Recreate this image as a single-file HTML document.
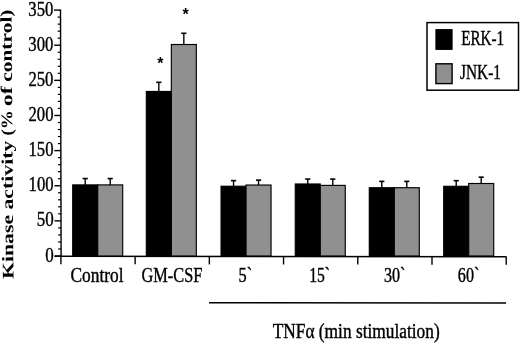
<!DOCTYPE html><html><head><meta charset="utf-8"><title>Kinase activity</title><style>html,body{margin:0;padding:0;background:#fff;}svg{display:block;will-change:transform}text{font-family:"Liberation Serif","DejaVu Serif",serif;fill:#000;stroke:#000;stroke-width:0.4}</style></head><body>
<svg width="520" height="345" viewBox="0 0 520 345">
<rect width="520" height="345" fill="#fff"/>
<line x1="60.5" y1="9.49" x2="61.1" y2="256.7" stroke="#000" stroke-width="1.4"/>
<line x1="54.60" y1="256.00" x2="61.10" y2="256.00" stroke="#000" stroke-width="1.4"/>
<text x="53.72" y="261.60" font-size="20.4" text-anchor="end" textLength="8.5" lengthAdjust="spacingAndGlyphs">0</text>
<line x1="58.18" y1="248.97" x2="61.08" y2="248.97" stroke="#000" stroke-width="1.2"/>
<line x1="58.17" y1="241.95" x2="61.07" y2="241.95" stroke="#000" stroke-width="1.2"/>
<line x1="58.15" y1="234.92" x2="61.05" y2="234.92" stroke="#000" stroke-width="1.2"/>
<line x1="58.13" y1="227.90" x2="61.03" y2="227.90" stroke="#000" stroke-width="1.2"/>
<line x1="54.51" y1="220.87" x2="61.01" y2="220.87" stroke="#000" stroke-width="1.4"/>
<text x="53.66" y="226.47" font-size="20.4" text-anchor="end" textLength="17" lengthAdjust="spacingAndGlyphs">50</text>
<line x1="58.10" y1="213.84" x2="61.00" y2="213.84" stroke="#000" stroke-width="1.2"/>
<line x1="58.08" y1="206.82" x2="60.98" y2="206.82" stroke="#000" stroke-width="1.2"/>
<line x1="58.06" y1="199.79" x2="60.96" y2="199.79" stroke="#000" stroke-width="1.2"/>
<line x1="58.05" y1="192.77" x2="60.95" y2="192.77" stroke="#000" stroke-width="1.2"/>
<line x1="54.43" y1="185.74" x2="60.93" y2="185.74" stroke="#000" stroke-width="1.4"/>
<text x="53.60" y="191.34" font-size="20.4" text-anchor="end" textLength="25" lengthAdjust="spacingAndGlyphs">100</text>
<line x1="58.01" y1="178.71" x2="60.91" y2="178.71" stroke="#000" stroke-width="1.2"/>
<line x1="57.99" y1="171.69" x2="60.89" y2="171.69" stroke="#000" stroke-width="1.2"/>
<line x1="57.98" y1="164.66" x2="60.88" y2="164.66" stroke="#000" stroke-width="1.2"/>
<line x1="57.96" y1="157.64" x2="60.86" y2="157.64" stroke="#000" stroke-width="1.2"/>
<line x1="54.34" y1="150.61" x2="60.84" y2="150.61" stroke="#000" stroke-width="1.4"/>
<text x="53.54" y="156.21" font-size="20.4" text-anchor="end" textLength="25" lengthAdjust="spacingAndGlyphs">150</text>
<line x1="57.93" y1="143.58" x2="60.83" y2="143.58" stroke="#000" stroke-width="1.2"/>
<line x1="57.91" y1="136.56" x2="60.81" y2="136.56" stroke="#000" stroke-width="1.2"/>
<line x1="57.89" y1="129.53" x2="60.79" y2="129.53" stroke="#000" stroke-width="1.2"/>
<line x1="57.87" y1="122.51" x2="60.77" y2="122.51" stroke="#000" stroke-width="1.2"/>
<line x1="54.26" y1="115.48" x2="60.76" y2="115.48" stroke="#000" stroke-width="1.4"/>
<text x="53.48" y="121.08" font-size="20.4" text-anchor="end" textLength="25" lengthAdjust="spacingAndGlyphs">200</text>
<line x1="57.84" y1="108.45" x2="60.74" y2="108.45" stroke="#000" stroke-width="1.2"/>
<line x1="57.82" y1="101.43" x2="60.72" y2="101.43" stroke="#000" stroke-width="1.2"/>
<line x1="57.81" y1="94.40" x2="60.71" y2="94.40" stroke="#000" stroke-width="1.2"/>
<line x1="57.79" y1="87.38" x2="60.69" y2="87.38" stroke="#000" stroke-width="1.2"/>
<line x1="54.17" y1="80.35" x2="60.67" y2="80.35" stroke="#000" stroke-width="1.4"/>
<text x="53.42" y="85.95" font-size="20.4" text-anchor="end" textLength="25" lengthAdjust="spacingAndGlyphs">250</text>
<line x1="57.75" y1="73.32" x2="60.65" y2="73.32" stroke="#000" stroke-width="1.2"/>
<line x1="57.74" y1="66.30" x2="60.64" y2="66.30" stroke="#000" stroke-width="1.2"/>
<line x1="57.72" y1="59.27" x2="60.62" y2="59.27" stroke="#000" stroke-width="1.2"/>
<line x1="57.70" y1="52.25" x2="60.60" y2="52.25" stroke="#000" stroke-width="1.2"/>
<line x1="54.09" y1="45.22" x2="60.59" y2="45.22" stroke="#000" stroke-width="1.4"/>
<text x="53.36" y="50.82" font-size="20.4" text-anchor="end" textLength="25" lengthAdjust="spacingAndGlyphs">300</text>
<line x1="57.67" y1="38.19" x2="60.57" y2="38.19" stroke="#000" stroke-width="1.2"/>
<line x1="57.65" y1="31.17" x2="60.55" y2="31.17" stroke="#000" stroke-width="1.2"/>
<line x1="57.63" y1="24.14" x2="60.53" y2="24.14" stroke="#000" stroke-width="1.2"/>
<line x1="57.62" y1="17.12" x2="60.52" y2="17.12" stroke="#000" stroke-width="1.2"/>
<line x1="54.00" y1="10.09" x2="60.50" y2="10.09" stroke="#000" stroke-width="1.4"/>
<text x="53.30" y="15.69" font-size="20.4" text-anchor="end" textLength="25" lengthAdjust="spacingAndGlyphs">350</text>
<line x1="54.5" y1="256.3" x2="506.52" y2="256.7" stroke="#000" stroke-width="1.4"/>
<line x1="60.90" y1="256.30" x2="60.90" y2="264.30" stroke="#000" stroke-width="1.4"/>
<line x1="135.12" y1="256.37" x2="135.12" y2="264.37" stroke="#000" stroke-width="1.4"/>
<line x1="209.34" y1="256.43" x2="209.34" y2="264.43" stroke="#000" stroke-width="1.4"/>
<line x1="283.56" y1="256.50" x2="283.56" y2="264.50" stroke="#000" stroke-width="1.4"/>
<line x1="357.78" y1="256.57" x2="357.78" y2="264.57" stroke="#000" stroke-width="1.4"/>
<line x1="432.00" y1="256.63" x2="432.00" y2="264.63" stroke="#000" stroke-width="1.4"/>
<line x1="506.22" y1="256.70" x2="506.22" y2="264.70" stroke="#000" stroke-width="1.4"/>
<rect x="72.71" y="184.90" width="25.0" height="71.10" fill="#000" stroke="#000" stroke-width="1.15"/>
<line x1="85.21" y1="184.90" x2="85.21" y2="178.57" stroke="#000" stroke-width="1.4"/>
<line x1="82.61" y1="178.57" x2="87.81" y2="178.57" stroke="#000" stroke-width="1.6"/>
<rect x="97.71" y="184.90" width="25.0" height="71.10" fill="#909090" stroke="#000" stroke-width="1.15"/>
<line x1="110.21" y1="184.90" x2="110.21" y2="178.57" stroke="#000" stroke-width="1.4"/>
<line x1="107.61" y1="178.57" x2="112.81" y2="178.57" stroke="#000" stroke-width="1.6"/>
<rect x="146.33" y="91.45" width="25.0" height="164.55" fill="#000" stroke="#000" stroke-width="1.15"/>
<line x1="158.83" y1="91.45" x2="158.83" y2="82.32" stroke="#000" stroke-width="1.4"/>
<line x1="156.23" y1="82.32" x2="161.43" y2="82.32" stroke="#000" stroke-width="1.6"/>
<rect x="171.33" y="44.52" width="25.0" height="211.48" fill="#909090" stroke="#000" stroke-width="1.15"/>
<line x1="183.83" y1="44.52" x2="183.83" y2="33.28" stroke="#000" stroke-width="1.4"/>
<line x1="181.23" y1="33.28" x2="186.43" y2="33.28" stroke="#000" stroke-width="1.6"/>
<rect x="221.05" y="186.23" width="25.0" height="69.77" fill="#000" stroke="#000" stroke-width="1.15"/>
<line x1="233.55" y1="186.23" x2="233.55" y2="180.61" stroke="#000" stroke-width="1.4"/>
<line x1="230.95" y1="180.61" x2="236.15" y2="180.61" stroke="#000" stroke-width="1.6"/>
<rect x="246.05" y="185.04" width="25.0" height="70.96" fill="#909090" stroke="#000" stroke-width="1.15"/>
<line x1="258.55" y1="185.04" x2="258.55" y2="180.12" stroke="#000" stroke-width="1.4"/>
<line x1="255.95" y1="180.12" x2="261.15" y2="180.12" stroke="#000" stroke-width="1.6"/>
<rect x="295.27" y="183.98" width="25.0" height="72.02" fill="#000" stroke="#000" stroke-width="1.15"/>
<line x1="307.77" y1="183.98" x2="307.77" y2="179.07" stroke="#000" stroke-width="1.4"/>
<line x1="305.17" y1="179.07" x2="310.37" y2="179.07" stroke="#000" stroke-width="1.6"/>
<rect x="320.27" y="185.39" width="25.0" height="70.61" fill="#909090" stroke="#000" stroke-width="1.15"/>
<line x1="332.77" y1="185.39" x2="332.77" y2="179.07" stroke="#000" stroke-width="1.4"/>
<line x1="330.17" y1="179.07" x2="335.37" y2="179.07" stroke="#000" stroke-width="1.6"/>
<rect x="369.29" y="187.71" width="25.0" height="68.29" fill="#000" stroke="#000" stroke-width="1.15"/>
<line x1="381.79" y1="187.71" x2="381.79" y2="181.38" stroke="#000" stroke-width="1.4"/>
<line x1="379.19" y1="181.38" x2="384.39" y2="181.38" stroke="#000" stroke-width="1.6"/>
<rect x="394.29" y="187.71" width="25.0" height="68.29" fill="#909090" stroke="#000" stroke-width="1.15"/>
<line x1="406.79" y1="187.71" x2="406.79" y2="181.38" stroke="#000" stroke-width="1.4"/>
<line x1="404.19" y1="181.38" x2="409.39" y2="181.38" stroke="#000" stroke-width="1.6"/>
<rect x="443.71" y="186.30" width="25.0" height="69.70" fill="#000" stroke="#000" stroke-width="1.15"/>
<line x1="456.21" y1="186.30" x2="456.21" y2="180.68" stroke="#000" stroke-width="1.4"/>
<line x1="453.61" y1="180.68" x2="458.81" y2="180.68" stroke="#000" stroke-width="1.6"/>
<rect x="468.71" y="183.49" width="25.0" height="72.51" fill="#909090" stroke="#000" stroke-width="1.15"/>
<line x1="481.21" y1="183.49" x2="481.21" y2="177.17" stroke="#000" stroke-width="1.4"/>
<line x1="478.61" y1="177.17" x2="483.81" y2="177.17" stroke="#000" stroke-width="1.6"/>
<text x="160.3" y="69.0" font-size="16" text-anchor="middle" style="font-family:'Liberation Sans',sans-serif;font-weight:bold;stroke:none">*</text>
<text x="185.5" y="19.5" font-size="16" text-anchor="middle" style="font-family:'Liberation Sans',sans-serif;font-weight:bold;stroke:none">*</text>
<text x="97" y="282.2" font-size="20" text-anchor="middle" textLength="53" lengthAdjust="spacingAndGlyphs">Control</text>
<text x="171.9" y="282.2" font-size="20" text-anchor="middle" textLength="60.8" lengthAdjust="spacingAndGlyphs">GM-CSF</text>
<text x="245.3" y="282.2" font-size="20" text-anchor="middle" textLength="13.6" lengthAdjust="spacingAndGlyphs">5`</text>
<text x="319.6" y="282.2" font-size="20" text-anchor="middle" textLength="20.8" lengthAdjust="spacingAndGlyphs">15`</text>
<text x="394.7" y="282.2" font-size="20" text-anchor="middle" textLength="21.5" lengthAdjust="spacingAndGlyphs">30`</text>
<text x="468.6" y="282.2" font-size="20" text-anchor="middle" textLength="21.5" lengthAdjust="spacingAndGlyphs">60`</text>
<line x1="209" y1="302.7" x2="506.1" y2="303.1" stroke="#000" stroke-width="1.5"/>
<text x="356.2" y="338.2" font-size="20.5" text-anchor="middle" textLength="167" lengthAdjust="spacingAndGlyphs">TNFα (min stimulation)</text>
<g transform="translate(13.5,279.1) rotate(-90.43)" font-size="16.2" font-weight="bold">
<text x="0" y="0" textLength="64.3" lengthAdjust="spacingAndGlyphs" style="stroke:none">Kinase</text>
<text x="69.6" y="0" textLength="68.8" lengthAdjust="spacingAndGlyphs" style="stroke:none">activity</text>
<text x="143.6" y="0" textLength="25.3" lengthAdjust="spacingAndGlyphs" style="stroke:none">(%</text>
<text x="173.2" y="0" textLength="19.5" lengthAdjust="spacingAndGlyphs" style="stroke:none">of</text>
<text x="197.3" y="0" textLength="72.3" lengthAdjust="spacingAndGlyphs" style="stroke:none">control)</text>
</g>
<rect x="427.0" y="22.6" width="91.5" height="67.6" fill="#fff" stroke="#000" stroke-width="1.5"/>
<rect x="435.9" y="29.6" width="16.2" height="19.8" fill="#000" stroke="#000" stroke-width="1"/>
<rect x="435.9" y="63.8" width="16.2" height="19.8" fill="#909090" stroke="#000" stroke-width="1.4"/>
<text x="461.2" y="45.2" font-size="21" textLength="43" lengthAdjust="spacingAndGlyphs">ERK-1</text>
<text x="460" y="78.9" font-size="21" textLength="41" lengthAdjust="spacingAndGlyphs">JNK-1</text>
</svg></body></html>
